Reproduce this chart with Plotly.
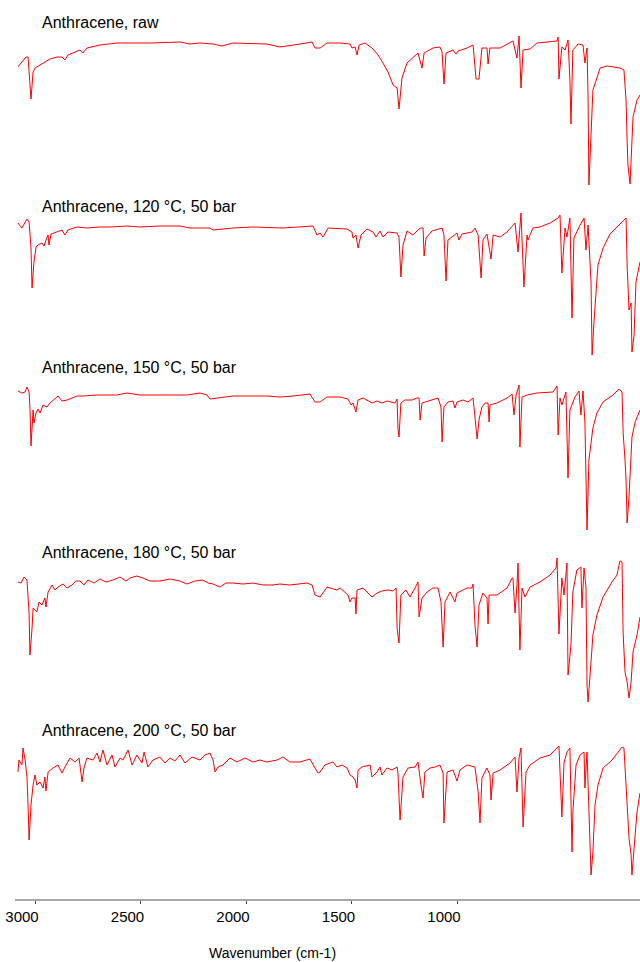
import plotly.graph_objects as go

# (wavenumber cm-1, transmittance a.u.) pairs
raw = [(3081,123),(3043,133),(3033,133),(3024,102),(3019,91),(3009,118),(3000,122),(2976,125),(2962,127),
       (2929,131),(2896,133),(2872,133),(2858,130),(2844,135),(2787,140),(2773,137),(2754,142),(2692,145),
       (2611,147),(2455,147),(2313,148),(2265,146),(2218,147),(2156,146),(2114,144),(2062,147),(1901,146),
       (1839,143),(1744,146),(1687,148),(1673,142),(1649,142),(1616,147),(1554,147),(1507,146),(1498,142),
       (1483,143),(1474,135),(1464,145),(1436,147),(1403,142),(1374,135),(1351,127),(1327,118),(1303,105),
       (1284,102),(1275,81),(1261,112),(1237,127),(1213,132),(1185,137),(1166,122),(1156,137),(1114,142),
       (1081,143),(1071,138),(1062,106),(1052,137),(1019,140),(1005,136),(995,139),(953,142),(924,145),
       (910,111),(896,111),(882,142),(858,142),(853,126),(844,142),(796,142),(735,149),(716,132),(706,154),
       (697,102),(687,140),(654,141),(621,147),(526,149),(521,153),(517,111),(503,143),(488,140),(474,150),
       (465,110),(460,66),(451,140),(427,146),(403,145),(394,127),(384,142),(379,92),(375,5),(365,63),
       (356,100),(337,112),(322,122),(289,124),(228,122),(209,120),(199,90),(194,50),(190,25),(180,6),
       (171,63),(166,73),(147,90),(133,95)]

t120 = [(3081,142),(3062,137),(3038,146),(3028,143),(3019,117),(3014,77),(3005,103),(2995,118),(2986,120),
        (2967,122),(2957,119),(2953,123),(2948,125),(2938,130),(2934,120),(2924,131),(2896,133),(2872,135),
        (2858,130),(2844,135),(2801,138),(2754,137),(2692,138),(2645,138),(2564,139),(2502,138),(2408,139),
        (2313,139),(2265,137),(2171,137),(2156,135),(2062,137),(1967,138),(1825,137),(1682,139),(1664,130),
        (1649,132),(1635,128),(1611,137),(1554,136),(1521,136),(1498,133),(1493,127),(1479,130),(1469,117),
        (1455,130),(1427,136),(1398,133),(1384,128),(1365,134),(1351,128),(1327,133),(1284,132),(1275,128),
        (1266,88),(1256,120),(1237,134),(1209,130),(1175,137),(1161,137),(1156,109),(1147,127),(1119,134),
        (1071,137),(1062,130),(1052,84),(1043,125),(1000,132),(991,125),(976,131),(929,133),(915,137),
        (900,130),(886,87),(877,125),(858,131),(839,106),(829,130),(796,128),(763,133),(725,142),(711,113),
        (697,152),(683,78),(668,130),(664,125),(640,137),(607,138),(559,142),(521,147),(512,150),(503,92),
        (488,137),(479,128),(465,147),(455,47),(446,127),(417,140),(398,147),(389,115),(379,140),(365,83),
        (360,10),(351,43),(341,77),(332,100),(308,117),(275,131),(218,143),(199,147),(194,100),(185,55),
        (175,62),(171,13),(161,30),(152,83),(133,103)]

t150 = [(3081,149),(3062,147),(3047,148),(3038,153),(3028,148),(3024,132),(3019,94),(3009,130),(3005,117),
        (2995,127),(2986,131),(2976,127),(2962,135),(2943,133),(2929,137),(2915,140),(2896,143),(2891,144),
        (2872,139),(2848,140),(2801,144),(2773,144),(2706,145),(2611,145),(2564,147),(2502,145),(2374,145),
        (2280,145),(2218,147),(2185,145),(2171,141),(2123,142),(2062,144),(1901,144),(1839,143),(1777,144),
        (1697,146),(1673,138),(1649,138),(1616,143),(1554,143),(1517,141),(1502,135),(1493,137),(1479,128),
        (1469,140),(1445,142),(1403,137),(1379,139),(1356,137),(1332,139),(1294,137),(1284,141),(1280,112),
        (1275,103),(1266,137),(1247,140),(1213,140),(1190,142),(1180,142),(1175,120),(1166,137),(1138,139),
        (1104,141),(1090,142),(1076,133),(1071,98),(1062,133),(1043,138),(1019,139),(1010,132),(1000,138),
        (972,140),(948,138),(924,142),(915,123),(905,101),(896,120),(882,133),(867,137),(853,137),(848,118),
        (844,135),(811,137),(763,142),(739,146),(730,125),(720,145),(706,155),(702,93),(692,143),(668,145),
        (621,147),(545,148),(526,154),(521,105),(512,142),(503,135),(484,148),(474,62),(465,130),(441,143),
        (422,149),(413,125),(403,149),(394,118),(389,47),(384,10),(375,80),(356,112),(337,127),(308,138),
        (261,145),(232,151),(218,148),(213,108),(204,80),(199,60),(194,17),(185,43),(171,103),(156,118),
        (133,130)]

t180 = [(3081,128),(3066,127),(3052,133),(3038,130),(3028,97),(3024,55),(3014,82),(3009,102),(2991,98),
        (2981,108),(2967,105),(2953,112),(2948,103),(2938,118),(2919,125),(2905,120),(2891,123),(2867,126),
        (2848,122),(2825,125),(2806,129),(2787,129),(2768,125),(2749,130),(2720,127),(2692,131),(2664,128),
        (2630,130),(2597,133),(2569,129),(2550,132),(2517,134),(2488,132),(2455,129),(2408,129),(2360,131),
        (2313,129),(2280,126),(2242,129),(2204,130),(2180,127),(2156,126),(2123,123),(2095,127),(2062,127),
        (2014,126),(1967,127),(1919,125),(1872,125),(1839,126),(1792,125),(1744,126),(1711,127),(1687,125),
        (1673,115),(1649,113),(1616,123),(1569,120),(1554,122),(1517,115),(1507,108),(1498,112),(1483,112),
        (1479,96),(1474,120),(1445,122),(1403,113),(1379,117),(1356,119),(1327,120),(1303,119),(1289,122),
        (1284,82),(1275,67),(1266,115),(1242,120),(1223,113),(1199,122),(1185,128),(1180,93),(1166,112),
        (1142,118),(1114,122),(1090,122),(1076,108),(1066,63),(1057,108),(1033,118),(1010,108),(1000,117),
        (953,122),(929,122),(924,126),(915,85),(905,63),(896,105),(877,117),(858,112),(853,86),(848,115),
        (811,115),(763,122),(739,132),(735,132),(725,97),(716,125),(711,147),(702,60),(692,122),(678,113),
        (654,123),(607,128),(559,135),(531,142),(526,152),(517,76),(507,128),(503,132),(493,115),(484,142),
        (479,147),(474,35),(460,65),(451,118),(432,140),(413,143),(408,102),(398,142),(389,123),(384,25),
        (379,8),(365,48),(356,75),(337,95),(308,113),(266,128),(242,135),(228,149),(218,148),(213,78),
        (204,38),(194,28),(185,12),(175,28),(166,58),(147,75),(133,93)]

t200 = [(3081,113),(3076,125),(3062,120),(3057,137),(3047,125),(3038,108),(3033,80),(3028,45),(3019,80),
        (3009,100),(3000,110),(2991,100),(2976,103),(2962,97),(2953,108),(2948,94),(2938,113),(2915,117),
        (2891,120),(2872,112),(2858,118),(2834,127),(2810,123),(2791,127),(2777,103),(2768,117),(2754,127),
        (2725,125),(2706,132),(2692,123),(2678,135),(2659,120),(2635,130),(2621,118),(2597,127),(2583,125),
        (2559,135),(2540,120),(2517,130),(2493,122),(2483,133),(2465,118),(2441,125),(2408,128),(2384,122),
        (2360,127),(2337,124),(2313,130),(2289,122),(2256,128),(2218,125),(2194,130),(2171,132),(2156,125),
        (2147,113),(2133,118),(2109,120),(2076,127),(2043,123),(2005,127),(1967,123),(1934,125),(1901,123),
        (1853,125),(1825,128),(1792,123),(1744,123),(1697,126),(1673,117),(1659,112),(1649,113),(1626,120),
        (1588,123),(1569,118),(1545,120),(1521,117),(1507,110),(1493,108),(1483,105),(1474,97),(1469,115),
        (1450,118),(1412,120),(1403,108),(1379,113),(1365,118),(1356,110),(1332,117),(1308,115),(1284,118),
        (1280,112),(1270,65),(1256,108),(1232,117),(1199,118),(1185,123),(1171,100),(1161,87),(1152,113),
        (1128,117),(1104,118),(1081,120),(1066,112),(1062,62),(1047,113),(1019,115),(1000,104),(986,115),
        (953,120),(924,118),(915,118),(900,93),(891,62),(882,107),(858,117),(844,110),(839,85),(829,112),
        (796,115),(749,122),(725,128),(716,93),(706,127),(697,137),(687,58),(673,113),(654,120),(607,127),
        (559,130),(526,137),(517,139),(503,68),(493,122),(479,133),(465,137),(455,33),(451,73),(436,120),
        (417,130),(398,133),(394,97),(384,133),(370,37),(365,10),(356,33),(346,80),(332,100),(308,117),
        (265,125),(218,138),(209,137),(194,87),(185,47),(175,30),(171,10),(156,50),(147,73),(133,92)]

spectra = [raw, t120, t150, t180, t200]
labels = ["Anthracene, raw", "Anthracene, 120 °C, 50 bar", "Anthracene, 150 °C, 50 bar",
          "Anthracene, 180 °C, 50 bar", "Anthracene, 200 °C, 50 bar"]
label_t = [168, 159, 172, 158, 155]
label_wn = 2976

tick_vals = [3000, 2500, 2000, 1500, 1000]
tick_text = ["3000", "2500", "2000", "1500", "1000"]

W, H = 640, 962
ml, mr, mt, mb = 15, 0, 10, 62
ph = H - mt - mb
bases = [190, 365, 540, 710, 885]
span = 180

fig = go.Figure()
layout = {}
for i, (data, lab, lt) in enumerate(zip(spectra, labels, label_t)):
    wn = [p[0] for p in data]
    tv = [p[1] for p in data]
    yname = "y" if i == 0 else f"y{i+1}"
    fig.add_trace(go.Scatter(x=wn, y=tv, mode="lines", xaxis="x", yaxis=yname,
                             line=dict(color="#ff0000", width=1), showlegend=False,
                             hoverinfo="skip"))
    d0 = (H - mb - bases[i]) / ph
    d1 = (H - mb - bases[i] + span) / ph
    key = "yaxis" if i == 0 else f"yaxis{i+1}"
    layout[key] = dict(domain=[d0, min(d1, 1.0)], range=[0, span], visible=False,
                       anchor="x", fixedrange=True)
    fig.add_annotation(x=label_wn, y=lt, xref="x", yref=yname, text=lab, showarrow=False,
                       xanchor="left", yanchor="middle",
                       font=dict(family="Arial, Liberation Sans, sans-serif", size=16, color="#000"))

x_left = 3000 + (35 - ml) * 4.739
x_right = 3000 - (W - 35) * 4.739
fig.update_layout(
    width=W, height=H,
    margin=dict(l=ml, r=mr, t=mt, b=mb),
    paper_bgcolor="white", plot_bgcolor="white",
    xaxis=dict(range=[x_left, x_right], anchor="free", position=0,
               showgrid=False, zeroline=False, showline=True, linecolor="#a8a8a8", linewidth=2,
               ticks="outside", ticklen=3, tickcolor="#444", tickwidth=1,
               tickvals=tick_vals, ticktext=tick_text, ticklabelshift=13,
               tickfont=dict(family="Arial, Liberation Sans, sans-serif", size=15, color="#000")),
    **layout,
)
fig.add_annotation(x=(272 - ml) / (W - ml - mr), y=(H - mb - 953) / ph, xref="paper", yref="paper",
                   text="Wavenumber (cm-1)", showarrow=False, xanchor="center", yanchor="middle",
                   font=dict(family="Arial, Liberation Sans, sans-serif", size=14, color="#000"))

fig.write_html("out.html", config={"displayModeBar": False},
               post_script="document.body.style.margin='0';document.body.style.overflow='hidden';")
